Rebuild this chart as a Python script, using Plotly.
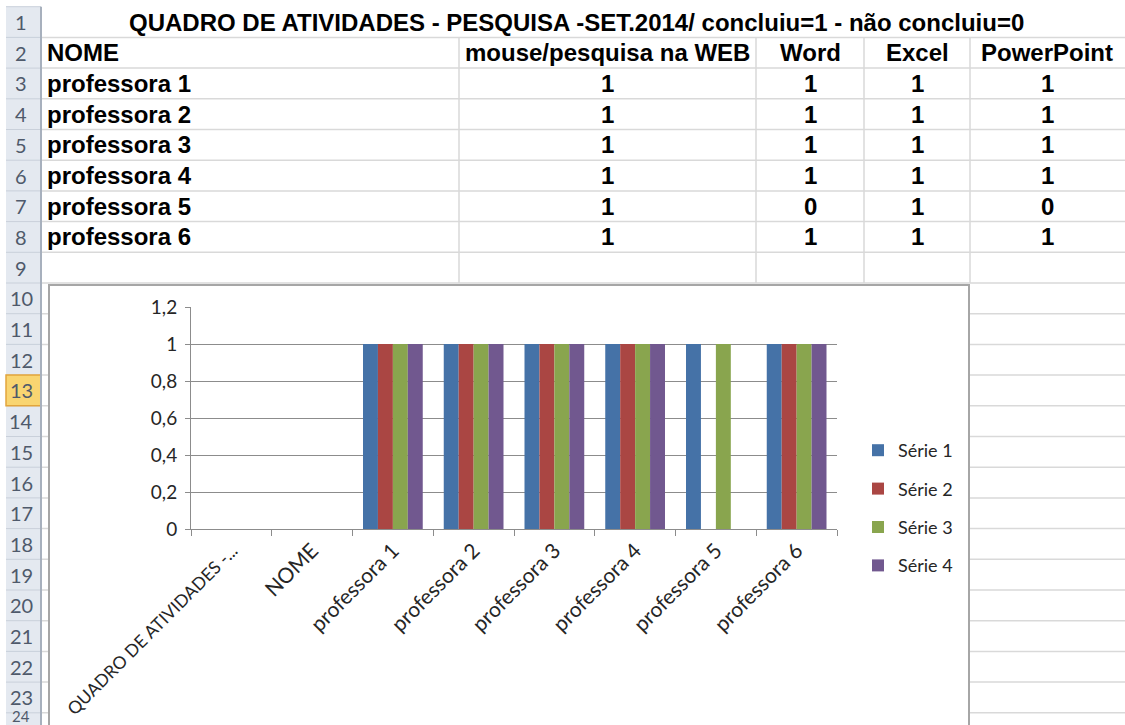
import plotly.graph_objects as go

# ---------------- data ----------------
title_text = "QUADRO DE ATIVIDADES - PESQUISA -SET.2014/ concluiu=1 - não concluiu=0"
col_headers = ["NOME", "mouse/pesquisa na WEB", "Word", "Excel", "PowerPoint"]
names = ["professora 1", "professora 2", "professora 3", "professora 4", "professora 5", "professora 6"]
mouse_web = [1, 1, 1, 1, 1, 1]
word = [1, 1, 1, 1, 0, 1]
excel = [1, 1, 1, 1, 1, 1]
powerpoint = [1, 1, 1, 1, 0, 1]

chart_categories = ["QUADRO DE ATIVIDADES -...", "NOME"] + names
series_names = ["Série 1", "Série 2", "Série 3", "Série 4"]
series_values = [
    [None, None] + mouse_web,
    [None, None] + word,
    [None, None] + excel,
    [None, None] + powerpoint,
]
series_colors = ["#4572A7", "#AA4643", "#89A54E", "#71588F"]

# ---------------- geometry helpers ----------------
W, H = 1125, 725


def X(px):
    return px / W


def Y(py):
    return 1 - py / H


ROW_H = 30.7


def row_top(k):
    return 283 + (k - 10) * ROW_H


col_edges = [41, 459, 756, 864, 970, 1125]
col_centers = [45, 607.5, 810, 917, 1047]

GRID = "#D9D9D9"
shapes = []
annotations = []

# header column background
shapes.append(dict(type="rect", xref="paper", yref="paper", layer="below",
                   x0=X(6), x1=X(41), y0=Y(row_top(1)), y1=Y(740),
                   fillcolor="#E4E9F0", line=dict(width=0)))
# header column row separators
for k in range(1, 26):
    y = row_top(k)
    shapes.append(dict(type="line", xref="paper", yref="paper", layer="below",
                       x0=X(6), x1=X(41), y0=Y(y), y1=Y(y),
                       line=dict(color="#C9D0DA", width=1)))
# selected row 13 highlight
shapes.append(dict(type="rect", xref="paper", yref="paper", layer="below",
                   x0=X(6), x1=X(41), y0=Y(row_top(13)), y1=Y(row_top(14)),
                   fillcolor="#F9D571", line=dict(color="#E2A53C", width=1.5)))
# header column right edge
shapes.append(dict(type="line", xref="paper", yref="paper", layer="below",
                   x0=X(41), x1=X(41), y0=Y(row_top(1)), y1=Y(740),
                   line=dict(color="#A7B0BD", width=2)))

# cell horizontal gridlines
for k in range(2, 26):
    y = row_top(k)
    shapes.append(dict(type="line", xref="paper", yref="paper", layer="below",
                       x0=X(42), x1=X(1125), y0=Y(y), y1=Y(y),
                       line=dict(color=GRID, width=1.5)))
# cell vertical gridlines (rows 2..9, row 1 merged)
for xe in col_edges[1:5]:
    shapes.append(dict(type="line", xref="paper", yref="paper", layer="below",
                       x0=X(xe), x1=X(xe), y0=Y(row_top(2)), y1=Y(row_top(10)),
                       line=dict(color=GRID, width=1.5)))

# chart area (white box with grey border)
shapes.append(dict(type="rect", xref="paper", yref="paper", layer="below",
                   x0=X(49), x1=X(969), y0=Y(285), y1=Y(760),
                   fillcolor="white", line=dict(color="#A6A6A6", width=2)))

# row numbers
for k in range(1, 25):
    yc = row_top(k) + ROW_H / 2
    annotations.append(dict(xref="paper", yref="paper", x=X(21), y=Y(min(yc, 716)),
                            text=str(k), showarrow=False, xanchor="center", yanchor="middle",
                            font=dict(family="Lato", size=20 if k < 24 else 15, color="#4F5A6B")))

TFONT = dict(family="Liberation Sans, Arial", size=24, color="black")
# title row
annotations.append(dict(xref="paper", yref="paper", x=X(576), y=Y(row_top(1) + ROW_H / 2),
                        text="<b>%s</b>" % title_text, showarrow=False,
                        xanchor="center", yanchor="middle", font=TFONT))
# header row
for j, h in enumerate(col_headers):
    annotations.append(dict(xref="paper", yref="paper",
                            x=X(col_centers[j]), y=Y(row_top(2) + ROW_H / 2),
                            text="<b>%s</b>" % h, showarrow=False,
                            xanchor="left" if j == 0 else "center", yanchor="middle",
                            font=TFONT))
# body rows
for i, nm in enumerate(names):
    yc = row_top(3 + i) + ROW_H / 2
    vals = [nm, mouse_web[i], word[i], excel[i], powerpoint[i]]
    for j, v in enumerate(vals):
        annotations.append(dict(xref="paper", yref="paper", x=X(col_centers[j]), y=Y(yc),
                                text="<b>%s</b>" % v, showarrow=False,
                                xanchor="left" if j == 0 else "center", yanchor="middle",
                                font=TFONT))

# ---------------- chart ----------------
fig = go.Figure()
for s in range(4):
    fig.add_trace(go.Bar(
        x=chart_categories, y=series_values[s], name=series_names[s],
        marker=dict(color=series_colors[s], line=dict(width=0)),
        legendgroup=series_names[s],
    ))

# the long first category label is drawn a little smaller (as Excel's narrow font does)
tick_text = ['<span style="font-size:17.5px">%s</span>' % chart_categories[0]] + chart_categories[1:]

CF = dict(family="Lato", size=21, color="#262626")
YF = dict(family="Lato", size=19, color="#262626")
AX = "#8C8C8C"
fig.update_layout(
    width=W, height=H,
    margin=dict(l=0, r=0, t=0, b=0),
    paper_bgcolor="white",
    plot_bgcolor="rgba(0,0,0,0)",
    separators=",.",
    barmode="group", bargap=0.26, bargroupgap=0,
    shapes=shapes, annotations=annotations,
    showlegend=True,
    legend=dict(x=X(858), y=Y(432), xanchor="left", yanchor="top",
                font=dict(family="Lato", size=18, color="#262626"),
                tracegroupgap=12, bgcolor="rgba(0,0,0,0)", traceorder="grouped"),
    xaxis=dict(domain=[X(191), X(837)], type="category", tickson="boundaries",
               categoryorder="array", categoryarray=chart_categories,
               tickmode="array", tickvals=chart_categories, ticktext=tick_text,
               ticks="outside", ticklen=6, tickcolor=AX, showline=True, linecolor=AX,
               linewidth=1, tickangle=-45, showgrid=False, tickfont=CF, automargin=False),
    yaxis=dict(domain=[Y(529), Y(307)], range=[0, 1.2], dtick=0.2, tick0=0,
               showgrid=True, gridcolor=AX, gridwidth=1, showline=True, linecolor=AX,
               ticks="outside", ticklen=5, tickcolor=AX, zeroline=False,
               tickfont=YF, automargin=False, ticklabelstandoff=4),
)

fig.write_html("out.html", config={"displayModeBar": False},
               post_script="document.body.style.margin='0';document.body.style.overflow='hidden';")
